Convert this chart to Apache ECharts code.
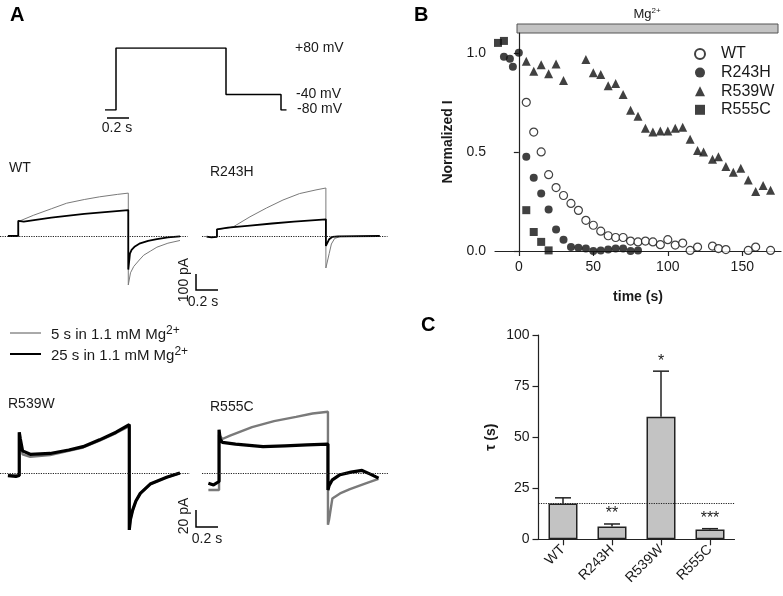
<!DOCTYPE html>
<html><head><meta charset="utf-8">
<script src="https://cdn.jsdelivr.net/npm/echarts@6/dist/echarts.min.js"></script>
<style>html,body{margin:0;padding:0;background:#fff}#c{width:783px;height:596px}</style>
</head><body><div id="c"></div>
<script>
// ---------- Panel A: voltage protocol (time s, mV) ----------
const protoT = [-0.1, 0, 0, 1.0, 1.0, 1.5, 1.5, 1.55];
const protoV = [-80, -80, 80, 80, -40, -40, -80, -80];

// ---------- Panel A: current traces [time s, current pA] ----------
const wtThin = [[-0.094,0],[0,0],[0,90],[0.14,130],[0.3,170],[0.44,205],[0.6,228],[0.74,245],[0.9,260],[1.0,268],[1.0,-306],[1.02,-230],[1.05,-190],[1.1,-150],[1.14,-120],[1.2,-95],[1.26,-70],[1.36,-45],[1.47,-28]];
const wtThick = [[-0.094,0],[0,0],[0,95],[0.01,100],[0.05,90],[0.3,115],[0.6,138],[1.0,162],[1.0,-210],[1.015,-110],[1.03,-87],[1.06,-65],[1.1,-48],[1.18,-30],[1.26,-19],[1.36,-8],[1.47,-2]];
const r243Thin = [[-0.094,-4],[-0.05,-8],[0,-6],[0,42],[0.1,50],[0.15,58],[0.3,120],[0.45,175],[0.6,225],[0.75,265],[0.9,288],[0.99,300],[0.99,-200],[1.0,-190],[1.02,-110],[1.04,-50],[1.07,-15],[1.12,-4],[1.48,0]];
const r243Thick = [[-0.094,-4],[-0.05,-8],[0,-6],[0,42],[0.1,52],[0.3,65],[0.5,78],[0.7,90],[0.99,104],[0.99,-62],[1.0,-55],[1.02,-20],[1.05,-5],[1.1,-2],[1.48,0]];
const r539Thin = [[-0.103,-3],[0,-3],[0,45],[0.03,22],[0.1,19],[0.28,21],[0.45,26],[0.58,30],[0.73,38],[0.88,47],[1.0,55],[1.0,-67],[1.01,-55],[1.03,-44],[1.06,-33],[1.1,-24],[1.19,-13],[1.34,-5],[1.46,0]];
const r539Thick = [[-0.103,-3],[-0.03,-4],[0,-3],[0,48],[0.01,40],[0.03,26],[0.1,22],[0.28,23],[0.45,27],[0.58,31],[0.73,39],[0.88,48],[1.0,57],[1.0,-67],[1.01,-55],[1.03,-44],[1.06,-33],[1.1,-24],[1.19,-13],[1.34,-5],[1.46,0]];
const r555Thin = [[-0.097,-20],[0,-20],[0,45],[0.03,40],[0.1,44],[0.3,54],[0.5,61],[0.7,66],[0.85,70],[0.99,72],[0.99,-61],[1.0,-55],[1.03,-30],[1.1,-24],[1.19,-19],[1.34,-12],[1.45,-7]];
const r555Thick = [[-0.097,-12],[-0.05,-14],[0,-10],[0,51],[0.01,40],[0.03,36],[0.15,34],[0.4,31],[0.6,32],[0.8,33],[0.99,34],[0.99,-20],[1.0,-15],[1.03,-8],[1.1,-2],[1.2,1],[1.3,3],[1.37,-1],[1.45,-6]];

// ---------- Panel B: normalized current vs time ----------
const bWT_t = [5,10,15,20,25,30,35,40,45,50,55,60,65,70,75,80,85,90,95,100,105,110,115,120,130,134,139,154,159,169];
const bWT_y = [0.75,0.60,0.50,0.385,0.32,0.28,0.24,0.205,0.155,0.13,0.10,0.077,0.068,0.068,0.05,0.046,0.05,0.046,0.032,0.057,0.03,0.04,0.003,0.02,0.025,0.012,0.007,0.003,0.02,0.003];
const bR243_t = [-10,-6,-4,0,5,10,15,20,25,30,35,40,45,50,55,60,65,70,75,80];
const bR243_y = [0.98,0.97,0.93,1.00,0.476,0.37,0.29,0.21,0.108,0.057,0.02,0.017,0.012,0.0,0.003,0.007,0.012,0.012,0.0,0.003];
const bR539_t = [5,10,15,20,25,30,45,50,55,60,65,70,75,80,85,90,95,100,105,110,115,120,124,130,134,139,144,149,154,159,164,169];
const bR539_y = [0.958,0.907,0.94,0.895,0.944,0.86,0.966,0.90,0.89,0.834,0.845,0.79,0.71,0.68,0.62,0.60,0.606,0.606,0.62,0.625,0.564,0.507,0.50,0.463,0.476,0.426,0.397,0.417,0.358,0.30,0.33,0.307];
const bR555_t = [-14,-10,5,10,15,20];
const bR555_y = [1.05,1.06,0.206,0.096,0.046,0.003];
const bXTicks = [0, 50, 100, 150];
const bYTicks = [0, 0.5, 1.0];

// ---------- Panel C: tau ----------
const cCats = ['WT', 'R243H', 'R539W', 'R555C'];
const cMean = [17.5, 6.3, 60.0, 4.8];
const cErr = [2.8, 1.2, 22.3, 0.4];
const cStars = ['', '**', '*', '***'];
const cWTRef = 17.5;

const FONT = 'Liberation Sans, Arial, sans-serif';
const INK = '#1a1a1a';
const zip = (a, b) => a.map((v, i) => [v, b[i]]);

const hiddenX = (min, max, gi) => ({type:'value', gridIndex:gi, min, max, show:false});
const hiddenY = (min, max, gi) => ({type:'value', gridIndex:gi, min, max, show:false});
const baseLine = {silent:true, symbol:'none', label:{show:false}, lineStyle:{type:'dotted', color:'#222', width:1.2}, data:[{yAxis:0}]};

function trace(name, data, gi, thick, big) {
  return {
    name, type:'line', xAxisIndex:gi, yAxisIndex:gi, data, symbol:'none', silent:true,
    z: thick ? 3 : 2,
    lineStyle: thick ? {color:'#000', width: big ? 3.2 : 1.8} : {color:'#7a7a7a', width: big ? 2.4 : 1},
    markLine: thick ? baseLine : undefined
  };
}

const option = {
  animation:false,
  backgroundColor:'#fff',
  textStyle:{fontFamily:FONT},
  grid:[
    {left:105, top:48, width:181.5, height:62},          // 0 protocol
    {left:0, top:184.8, width:187.7, height:107.2},        // 1 WT
    {left:202, top:184.8, width:185.5, height:107.2},      // 2 R243H
    {left:0, top:409.25, width:189.8, height:127.5},       // 3 R539W
    {left:202, top:409.25, width:185.9, height:127.5},     // 4 R555C
    {left:495, top:33, width:286, height:218},             // 5 B
    {left:538.5, top:335, width:196, height:204.3}         // 6 C
  ],
  xAxis:[
    hiddenX(-0.1, 1.55, 0),
    hiddenX(-0.166, 1.54, 1),
    hiddenX(-0.136, 1.55, 2),
    hiddenX(-0.175, 1.55, 3),
    hiddenX(-0.155, 1.535, 4),
    {type:'value', gridIndex:5, min:-16, max:176,
     name:'time (s)', nameLocation:'middle', nameGap:39,
     nameTextStyle:{fontFamily:FONT, fontSize:14, fontWeight:'bold', color:INK},
     axisLine:{lineStyle:{color:'#222', width:1.2}},
     axisTick:{show:true, inside:false, customValues:bXTicks, length:5, lineStyle:{color:'#222', width:1.2}},
     axisLabel:{customValues:bXTicks, fontSize:14, color:INK, fontFamily:FONT, margin:9},
     splitLine:{show:false}},
    {type:'category', gridIndex:6, data:cCats,
     axisLine:{lineStyle:{color:'#222', width:1.2}},
     axisTick:{show:true, inside:false, alignWithLabel:true, length:6, lineStyle:{color:'#222', width:1.2}},
     axisLabel:{rotate:45, fontSize:14, color:INK, fontFamily:FONT, margin:8, interval:0}}
  ],
  yAxis:[
    hiddenY(-80, 80, 0),
    hiddenY(-350, 320, 1),
    hiddenY(-350, 320, 2),
    hiddenY(-75, 75, 3),
    hiddenY(-75, 75, 4),
    {type:'value', gridIndex:5, min:0, max:1.1,
     name:'Normalized I', nameLocation:'middle', nameGap:40,
     nameTextStyle:{fontFamily:FONT, fontSize:14, fontWeight:'bold', color:INK},
     axisLine:{show:true, lineStyle:{color:'#222', width:1.2}},
     axisTick:{show:true, customValues:bYTicks, length:5, lineStyle:{color:'#222', width:1.2}},
     axisLabel:{customValues:bYTicks, fontSize:14, color:INK, fontFamily:FONT, margin:9, formatter:v=>v.toFixed(1)},
     splitLine:{show:false}},
    {type:'value', gridIndex:6, min:0, max:100, interval:25,
     name:'τ (s)', nameLocation:'middle', nameGap:40,
     nameTextStyle:{fontFamily:FONT, fontSize:14, fontWeight:'bold', color:INK},
     axisLine:{show:true, lineStyle:{color:'#222', width:1.2}},
     axisTick:{show:true, length:6, lineStyle:{color:'#222', width:1.2}},
     axisLabel:{fontSize:14, color:INK, fontFamily:FONT, margin:9},
     splitLine:{show:false}}
  ],
  legend:{
    data:['WT','R243H','R539W','R555C'],
    orient:'vertical', left:694, top:46, padding:0, itemWidth:10, itemHeight:10, itemGap:2.6, itemTextGap:6,
    textStyle:{fontSize:16, lineHeight:16, color:INK, fontFamily:FONT, padding:[0,0,0,11]},
    selectedMode:false
  },
  series:[
    {name:'protocol', type:'line', xAxisIndex:0, yAxisIndex:0, data:zip(protoT, protoV), symbol:'none', silent:true,
     lineStyle:{color:'#000', width:1.5}},
    trace('wtThin', wtThin, 1, false, false),
    trace('wtThick', wtThick, 1, true, false),
    trace('r243Thin', r243Thin, 2, false, false),
    trace('r243Thick', r243Thick, 2, true, false),
    trace('r539Thin', r539Thin, 3, false, true),
    trace('r539Thick', r539Thick, 3, true, true),
    trace('r555Thin', r555Thin, 4, false, true),
    trace('r555Thick', r555Thick, 4, true, true),
    {name:'WT', type:'scatter', xAxisIndex:5, yAxisIndex:5, data:zip(bWT_t, bWT_y), symbol:'circle', symbolSize:8,
     itemStyle:{color:'#fff', borderColor:'#111', borderWidth:1.2}, z:4},
    {name:'R243H', type:'scatter', xAxisIndex:5, yAxisIndex:5, data:zip(bR243_t, bR243_y), symbol:'circle', symbolSize:8,
     itemStyle:{color:'#111'}, z:3},
    {name:'R539W', type:'scatter', xAxisIndex:5, yAxisIndex:5, data:zip(bR539_t, bR539_y), symbol:'triangle', symbolSize:9,
     itemStyle:{color:'#111'}, z:3},
    {name:'R555C', type:'scatter', xAxisIndex:5, yAxisIndex:5, data:zip(bR555_t, bR555_y), symbol:'rect', symbolSize:8,
     itemStyle:{color:'#111'}, z:3},
    {name:'tau', type:'bar', xAxisIndex:6, yAxisIndex:6, data:cMean, barWidth:29,
     itemStyle:{color:'#c3c3c3', borderColor:'#222', borderWidth:1.5},
     markLine:{silent:true, symbol:'none', label:{show:false}, lineStyle:{type:'dotted', color:'#222', width:1.2}, data:[{yAxis:cWTRef}]}},
    {name:'err', type:'custom', xAxisIndex:6, yAxisIndex:6, data:cMean.map((m,i)=>[i, m, cErr[i]]), z:5, silent:true,
     renderItem:(params, api)=>{
       const i = api.value(0);
       const base = api.coord([i, api.value(1)]);
       const top = api.coord([i, api.value(1) + api.value(2)]);
       return {type:'group', children:[
         {type:'line', shape:{x1:base[0], y1:base[1], x2:top[0], y2:top[1]}, style:{stroke:'#222', lineWidth:1.5}},
         {type:'line', shape:{x1:top[0]-8, y1:top[1], x2:top[0]+8, y2:top[1]}, style:{stroke:'#222', lineWidth:1.5}},
         {type:'text', style:{text:cStars[params.dataIndex], x:top[0], y:top[1]-10, align:'center', verticalAlign:'middle',
           font:'16px ' + FONT, fill:INK}}
       ]};
     }}
  ],
  graphic:[
    {type:'text', left:10, top:5, style:{text:'A', font:'bold 20px ' + FONT, fill:'#000'}},
    {type:'text', left:414, top:5, style:{text:'B', font:'bold 20px ' + FONT, fill:'#000'}},
    {type:'text', left:421, top:315, style:{text:'C', font:'bold 20px ' + FONT, fill:'#000'}},
    // protocol labels
    {type:'text', x:295, y:48, style:{text:'+80 mV', font:'14px ' + FONT, fill:INK, verticalAlign:'middle'}},
    {type:'text', x:296, y:94, style:{text:'-40 mV', font:'14px ' + FONT, fill:INK, verticalAlign:'middle'}},
    {type:'text', x:297, y:109, style:{text:'-80 mV', font:'14px ' + FONT, fill:INK, verticalAlign:'middle'}},
    {type:'line', shape:{x1:107, y1:118, x2:129, y2:118}, style:{stroke:'#000', lineWidth:1.5}},
    {type:'text', x:117, y:128, style:{text:'0.2 s', font:'14px ' + FONT, fill:INK, align:'center', verticalAlign:'middle'}},
    // trace labels
    {type:'text', x:9, y:168, style:{text:'WT', font:'14px ' + FONT, fill:INK, verticalAlign:'middle'}},
    {type:'text', x:210, y:172, style:{text:'R243H', font:'14px ' + FONT, fill:INK, verticalAlign:'middle'}},
    {type:'text', x:8, y:404, style:{text:'R539W', font:'14px ' + FONT, fill:INK, verticalAlign:'middle'}},
    {type:'text', x:210, y:407, style:{text:'R555C', font:'14px ' + FONT, fill:INK, verticalAlign:'middle'}},
    // scale bars top
    {type:'polyline', shape:{points:[[196,274],[196,290],[218,290]]}, style:{stroke:'#000', lineWidth:1.5, fill:null}},
    {type:'text', x:184, y:280, rotation:Math.PI/2, style:{text:'100 pA', font:'14px ' + FONT, fill:INK, align:'center', verticalAlign:'middle'}},
    {type:'text', x:203, y:302, style:{text:'0.2 s', font:'14px ' + FONT, fill:INK, align:'center', verticalAlign:'middle'}},
    // scale bars bottom
    {type:'polyline', shape:{points:[[196,510],[196,527],[218,527]]}, style:{stroke:'#000', lineWidth:1.5, fill:null}},
    {type:'text', x:184, y:516, rotation:Math.PI/2, style:{text:'20 pA', font:'14px ' + FONT, fill:INK, align:'center', verticalAlign:'middle'}},
    {type:'text', x:207, y:539, style:{text:'0.2 s', font:'14px ' + FONT, fill:INK, align:'center', verticalAlign:'middle'}},
    // legend A
    {type:'line', shape:{x1:10, y1:333, x2:41, y2:333}, style:{stroke:'#555', lineWidth:1}},
    {type:'line', shape:{x1:10, y1:354, x2:41, y2:354}, style:{stroke:'#000', lineWidth:2}},
    {type:'text', x:51, y:335, style:{text:'5 s in 1.1 mM Mg{s|2+}', fill:INK, font:'15px ' + FONT, verticalAlign:'middle',
      rich:{s:{fontSize:12, fontFamily:FONT, verticalAlign:'top', padding:[0,0,9,0], fill:INK}}}},
    {type:'text', x:51, y:356, style:{text:'25 s in 1.1 mM Mg{s|2+}', fill:INK, font:'15px ' + FONT, verticalAlign:'middle',
      rich:{s:{fontSize:12, fontFamily:FONT, verticalAlign:'top', padding:[0,0,9,0], fill:INK}}}},
    // Mg bar in B
    {type:'rect', shape:{x:517, y:24, width:261, height:9}, style:{fill:'#c3c3c3', stroke:'#555', lineWidth:1}},
    {type:'text', x:647, y:14, style:{text:'Mg{s|2+}', fill:INK, font:'13px ' + FONT, align:'center', verticalAlign:'middle',
      rich:{s:{fontSize:8, fontFamily:FONT, padding:[0,0,7,0], fill:INK}}}}
  ]
};

const chart = echarts.init(document.getElementById('c'), null, {renderer:'canvas'});
chart.setOption(option);
</script>
</body></html>
